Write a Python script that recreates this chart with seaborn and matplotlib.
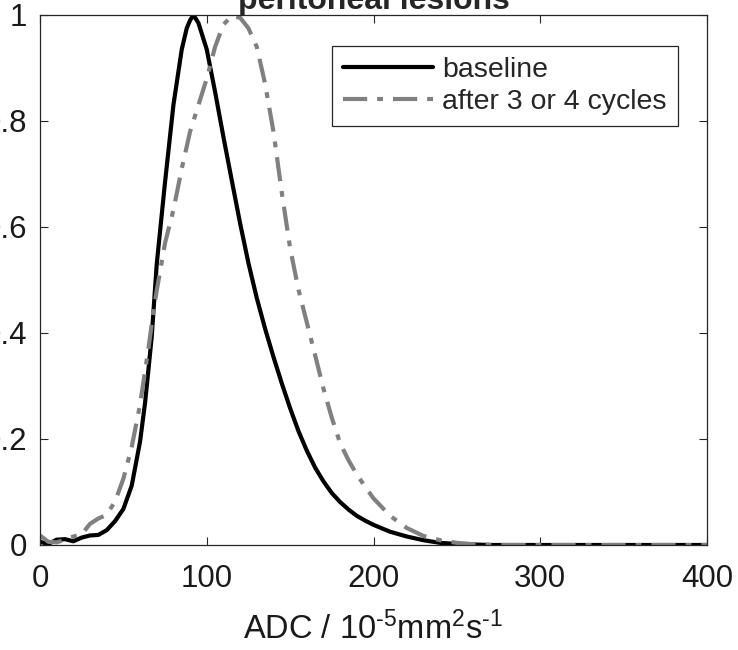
import numpy as np
import pandas as pd
import matplotlib
matplotlib.use("Agg")
import matplotlib.pyplot as plt
import seaborn as sns

# ADC values (10^-5 mm^2/s) and normalised histogram values
baseline_adc = [0, 5, 10, 15, 20, 25, 30, 35, 40, 45, 50, 55, 60, 63, 65, 67, 70, 75, 80, 85,
                88, 90, 92, 95, 100, 105, 110, 115, 120, 125, 130, 135, 140, 145, 150, 155,
                160, 165, 170, 175, 180, 185, 190, 195, 200, 210, 220, 230, 240, 250, 260,
                270, 300, 350, 400]
baseline_val = [0.006, 0.002, 0.010, 0.011, 0.007, 0.014, 0.018, 0.019, 0.028, 0.045, 0.068,
                0.112, 0.195, 0.268, 0.330, 0.393, 0.530, 0.685, 0.830, 0.935, 0.975, 0.990,
                1.000, 0.985, 0.935, 0.855, 0.770, 0.688, 0.607, 0.532, 0.466, 0.408, 0.355,
                0.305, 0.258, 0.215, 0.178, 0.146, 0.120, 0.098, 0.081, 0.067, 0.055, 0.046,
                0.038, 0.025, 0.016, 0.009, 0.004, 0.002, 0.001, 0.0, 0.0, 0.0, 0.0]

after_adc = [0, 5, 10, 15, 20, 25, 30, 35, 40, 45, 50, 55, 60, 65, 68, 70, 75, 80, 85, 90, 95,
             100, 105, 110, 115, 120, 125, 130, 135, 140, 145, 150, 155, 160, 165, 170, 175,
             180, 185, 190, 195, 200, 210, 220, 230, 240, 250, 260, 270, 280, 300, 350, 400]
after_val = [0.018, 0.006, 0.005, 0.010, 0.016, 0.020, 0.040, 0.050, 0.057, 0.082, 0.125,
             0.185, 0.265, 0.370, 0.440, 0.480, 0.570, 0.632, 0.710, 0.780, 0.830, 0.880,
             0.940, 0.982, 0.998, 0.995, 0.975, 0.940, 0.870, 0.780, 0.665, 0.560, 0.482,
             0.420, 0.358, 0.295, 0.240, 0.192, 0.160, 0.133, 0.110, 0.088, 0.055, 0.032,
             0.017, 0.009, 0.004, 0.0015, 0.0005, 0.0, 0.0, 0.0, 0.0]

series_labels = ["baseline", "after 3 or 4 cycles"]
x_ticks = [0, 100, 200, 300, 400]
y_ticks = [0, 0.2, 0.4, 0.6, 0.8, 1]
y_tick_labels = ["0", "0.2", "0.4", "0.6", "0.8", "1"]
title = "peritoneal lesions"
x_label = r"ADC / 10$^{\text{-5}}$mm$^{\text{2}}$s$^{\text{-1}}$"

sns.set_theme(style="white")
plt.rcParams["font.family"] = ["Liberation Sans", "DejaVu Sans"]
plt.rcParams["mathtext.fontset"] = "custom"
plt.rcParams["mathtext.rm"] = "Liberation Sans"
plt.rcParams["mathtext.it"] = "Liberation Sans:italic"
plt.rcParams["mathtext.bf"] = "Liberation Sans:bold"

df_base = pd.DataFrame({"adc": baseline_adc, "val": baseline_val})
df_after = pd.DataFrame({"adc": after_adc, "val": after_val})

fig = plt.figure(figsize=(7.38, 6.5), dpi=100)
ax = fig.add_axes([40 / 738, 105 / 650, 667 / 738, 530 / 650])

sns.lineplot(data=df_base, x="adc", y="val", color="black", linewidth=3,
             label=series_labels[0], ax=ax)
sns.lineplot(data=df_after, x="adc", y="val", color="#808080", linewidth=3,
             linestyle=(0, (5.8, 2.4, 1.4, 2.4)), label=series_labels[1], ax=ax)

ax.set_xlim(0, 400)
ax.set_ylim(0, 1)
ax.set_xticks(x_ticks)
ax.set_xticklabels([str(t) for t in x_ticks])
ax.set_yticks(y_ticks)
ax.set_yticklabels(y_tick_labels)
ax.tick_params(axis="both", direction="in", length=6, width=0.8, color="#262626",
               labelsize=22.5, labelcolor="#1a1a1a", top=True, right=True,
               bottom=True, left=True)
ax.tick_params(axis="x", pad=14)
ax.tick_params(axis="y", pad=9)
for sp in ax.spines.values():
    sp.set_color("#262626")
    sp.set_linewidth(0.9)

ax.set_xlabel(x_label, fontsize=23.5, color="#1a1a1a", labelpad=12)
ax.set_ylabel("")
ax.set_title(title, fontsize=23, fontweight="bold", pad=4)

leg = ax.legend(loc="upper right", bbox_to_anchor=(0.9565, 0.9415), borderaxespad=0,
                fontsize=20.5, frameon=True, fancybox=False, edgecolor="#262626",
                handlelength=3.15, handletextpad=0.33, labelspacing=0.18, borderpad=0.4)
leg.get_frame().set_linewidth(0.9)
leg.get_frame().set_alpha(1)

fig.savefig("out.png", dpi=100)
